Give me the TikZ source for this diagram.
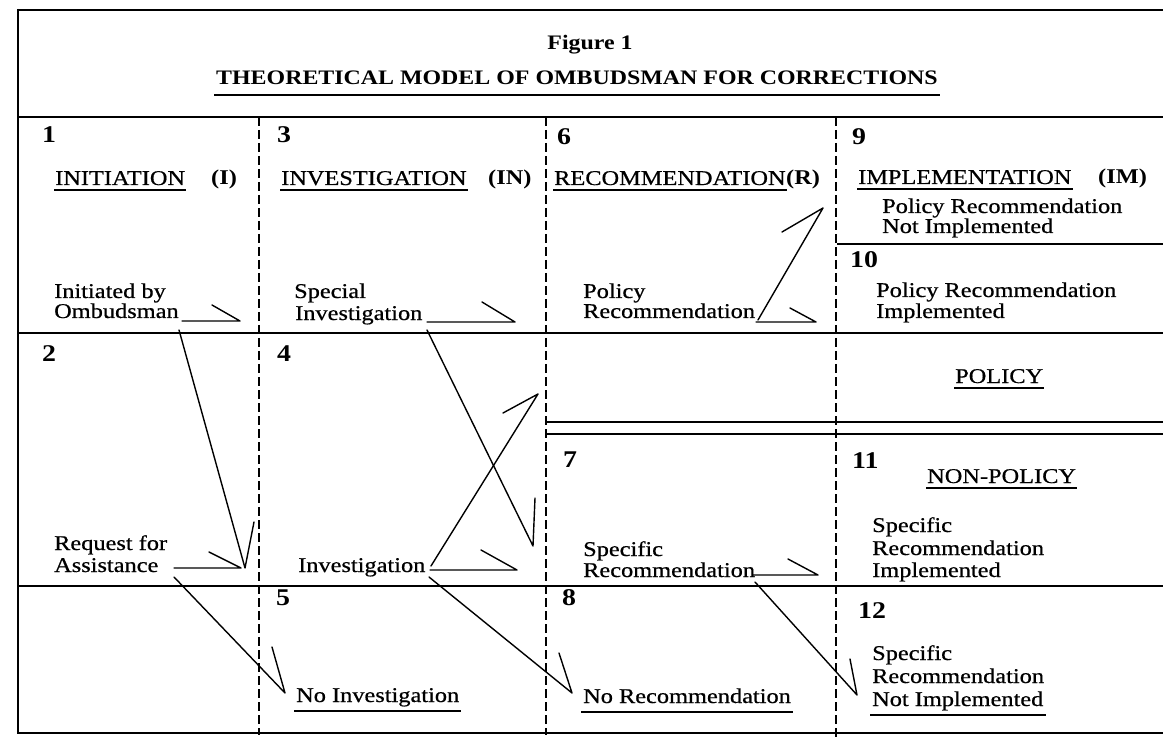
\documentclass[tikz,border=0pt]{standalone}
\usepackage{fontspec}
\setmainfont{Liberation Serif}[FakeStretch=1.16, UprightFeatures={FakeBold=0.6}]
\usetikzlibrary{calc}
\begin{document}
\begin{tikzpicture}[x=1pt,y=-1pt,
  frame/.style={line width=2.8pt},
  dline/.style={line width=2.4pt, dash pattern=on 9pt off 4pt},
  conn/.style={line width=1.4pt, line cap=round, line join=round},
  uline/.style={line width=1.6pt},
  txt/.style={anchor=base west, inner sep=0pt, font=\fontsize{21}{22}\selectfont},
  bld/.style={txt, font=\fontsize{21}{22}\selectfont\bfseries},
  num/.style={txt, font=\fontsize{24}{24}\selectfont\bfseries},
  head/.style={anchor=base, inner sep=0pt, font=\fontsize{20.6}{22}\selectfont\bfseries}]
\useasboundingbox (0,0) rectangle (1163,738);
\fill[white] (0,0) rectangle (1163,738);
% frame
\draw[frame] (18,10) -- (1163,10);
\draw[frame] (18,9) -- (18,734);
\draw[frame] (18,117) -- (1163,117);
\draw[frame] (18,333) -- (1163,333);
\draw[frame] (18,586) -- (1163,586);
\draw[frame] (18,733) -- (1163,733);
\draw[frame] (837,244) -- (1163,244);
\draw[frame] (546,422) -- (1163,422);
\draw[frame] (546,434) -- (1163,434);
\draw[dline] (259,117) -- (259,735);
\draw[dline] (546,117) -- (546,735);
\draw[dline] (836,117) -- (836,738);
% title
\node[head] (fig) at (590,50) {Figure 1};
\node[head] (title) at (577,85) {THEORETICAL MODEL OF OMBUDSMAN FOR CORRECTIONS};
\draw[line width=2.8pt] ($(title.base west)+(-2,10)$) -- ($(title.base east)+(2,10)$);
% numbers
\node[num] (n1) at (42,143) {1};
\node[num] (n3) at (277,143) {3};
\node[num] (n6) at (557,145) {6};
\node[num] (n9) at (852,145) {9};
\node[num] (n10) at (850,268) {10};
\node[num] (n2) at (42,362) {2};
\node[num] (n4) at (277,362) {4};
\node[num] (n7) at (563,467) {7};
\node[num] (n11) at (852,468) {11};
\node[num] (n5) at (276,605) {5};
\node[num] (n8) at (562,605) {8};
\node[num] (n12) at (858,618) {12};
% headings
\node[txt] (hI) at (55,185) {INITIATION};
\node[bld] (hIb) at (211,185) {(I)};
\node[txt] (hIN) at (281,185) {INVESTIGATION};
\node[bld] (hINb) at (488,185) {(IN)};
\node[txt] (hR) at (554,185) {RECOMMENDATION};
\node[bld] (hRb) at (786,185) {(R)};
\node[txt] (hIM) at (858,184) {IMPLEMENTATION};
\node[bld] (hIMb) at (1098,184) {(IM)};
\node[txt] (hP) at (955,383) {POLICY};
\node[txt] (hNP) at (927,483) {NON-POLICY};
\foreach \n in {hI,hIN,hR,hIM,hP,hNP}
  \draw[uline] ($(\n.base west)+(-1,5)$) -- ($(\n.base east)+(1,5)$);
% cell texts
\node[txt] (pr9a) at (882,213) {Policy Recommendation};
\node[txt] (pr9b) at (882,233) {Not Implemented};
\node[txt] (pr10a) at (876,297) {Policy Recommendation};
\node[txt] (pr10b) at (876,318) {Implemented};
\node[txt] (ib1) at (54,298) {Initiated by};
\node[txt] (ib2) at (54,318) {Ombudsman};
\node[txt] (si1) at (294,298) {Special};
\node[txt] (si2) at (295,320) {Investigation};
\node[txt] (pr6a) at (583,298) {Policy};
\node[txt] (pr6b) at (583,318) {Recommendation};
\node[txt] (ra1) at (54,550) {Request for};
\node[txt] (ra2) at (54,572) {Assistance};
\node[txt] (inv) at (298,572) {Investigation};
\node[txt] (sr7a) at (583,556) {Specific};
\node[txt] (sr7b) at (583,577) {Recommendation};
\node[txt] (sr11a) at (872,532) {Specific};
\node[txt] (sr11b) at (872,555) {Recommendation};
\node[txt] (sr11c) at (872,577) {Implemented};
\node[txt] (ni) at (296,702) {No Investigation};
\node[txt] (nr) at (583,703) {No Recommendation};
\node[txt] (sr12a) at (872,660) {Specific};
\node[txt] (sr12b) at (872,683) {Recommendation};
\node[txt] (sr12c) at (872,706) {Not Implemented};
\foreach \n in {ni,nr,sr12c}
  \draw[uline] ($(\n.base west)+(-2,9)$) -- ($(\n.base east)+(2,9)$);
% arrow coordinates
\coordinate (a1s) at (182,321); \coordinate (a1t) at (240,321); \coordinate (a1b) at (212,305);
\coordinate (a2s) at (179,330); \coordinate (a2t) at (245,568); \coordinate (a2b) at (254,522);
\coordinate (a3s) at (427,322); \coordinate (a3t) at (515,322); \coordinate (a3b) at (482,302);
\coordinate (a4s) at (427,330); \coordinate (a4t) at (533,546); \coordinate (a4b) at (535,498);
\coordinate (a5s) at (756,322); \coordinate (a5t) at (816,322); \coordinate (a5b) at (790,308);
\coordinate (a6s) at (758,320); \coordinate (a6t) at (823,208); \coordinate (a6b) at (782,232);
\coordinate (a7s) at (174,568); \coordinate (a7t) at (241,568); \coordinate (a7b) at (209,552);
\coordinate (a8s) at (174,577); \coordinate (a8t) at (285,693); \coordinate (a8b) at (272,647);
\coordinate (a9s) at (430,570); \coordinate (a9t) at (517,570); \coordinate (a9b) at (481,550);
\coordinate (a10s) at (431,566); \coordinate (a10t) at (538,394); \coordinate (a10b) at (503,413);
\coordinate (a11s) at (753,575); \coordinate (a11t) at (818,575); \coordinate (a11b) at (788,559);
\coordinate (a12s) at (755,582); \coordinate (a12t) at (857,695); \coordinate (a12b) at (850,659);
\coordinate (a13s) at (429,577); \coordinate (a13t) at (572,693); \coordinate (a13b) at (559,653);
\foreach \i in {1,...,13}
  \draw[conn] (a\i s) -- (a\i t) -- (a\i b);
\end{tikzpicture}
\end{document}
